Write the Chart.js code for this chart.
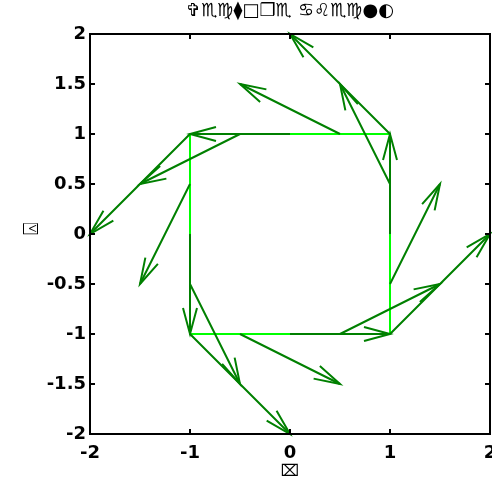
<!DOCTYPE html>
<html>
<head>
<meta charset="utf-8">
<script src="https://cdn.jsdelivr.net/npm/chart.js@4.4.0/dist/chart.umd.min.js"></script>
<style>
html, body { margin: 0; padding: 0; overflow: hidden; background: #fff; }
canvas { position: absolute; left: 0; top: 0; }
</style>
</head>
<body>
<canvas id="chart" width="500" height="482"></canvas>
<script>
// texts (the reference shows them in a symbol font)
var titleText = "\u271E\u264F\u264D\u29EB\u25A1\u2752\u264F \u264B\u264C\u264F\u264D\u25CF\u25D0";
var xLabel = "\u2327";
var yLabel = "\u2002\u2353";

// points on the square (arrow tails)
var ptX = [1, 1, 1, 1, 1, 0.5, 0, -0.5, -1, -1, -1, -1, -1, -0.5, 0, 0.5];
var ptY = [-1, -0.5, 0, 0.5, 1, 1, 1, 1, 1, 0.5, 0, -0.5, -1, -1, -1, -1];
// vector components
var vecU = [1, 0.5, 0, -0.5, -1, -1, -1, -1, -1, -0.5, 0, 0.5, 1, 1, 1, 1];
var vecV = [1, 1, 1, 1, 1, 0.5, 0, -0.5, -1, -1, -1, -1, -1, -0.5, 0, 0.5];

var xTicks = [-2, -1, 0, 1, 2];
var xTickLabels = ["-2", "-1", "0", "1", "2"];
var yTicks = [-2, -1.5, -1, -0.5, 0, 0.5, 1, 1.5, 2];
var yTickLabels = ["-2", "-1.5", "-1", "-0.5", "0", "0.5", "1", "1.5", "2"];

var arrowColor = "#008000";
var outlineColor = "#00ff00";

var outline = [];
for (var i = 0; i < ptX.length; i++) outline.push({x: ptX[i], y: ptY[i]});
outline.push({x: ptX[0], y: ptY[0]});

var shafts = [];
for (var i = 0; i < ptX.length; i++) {
    shafts.push({x: ptX[i], y: ptY[i]});
    shafts.push({x: ptX[i] + vecU[i], y: ptY[i] + vecV[i]});
    shafts.push({x: ptX[i], y: null});
}

// arrow heads and the axes box with inward ticks
var quiverPlugin = {
    id: "quiver",
    afterDatasetsDraw: function (chart) {
        var ctx = chart.ctx, xs = chart.scales.x, ys = chart.scales.y, a = chart.chartArea;
        var headLen = 26, headHalf = 7;

        ctx.save();
        ctx.strokeStyle = arrowColor;
        ctx.lineWidth = 2;
        for (var i = 0; i < ptX.length; i++) {
            var x0 = xs.getPixelForValue(ptX[i]), y0 = ys.getPixelForValue(ptY[i]);
            var x1 = xs.getPixelForValue(ptX[i] + vecU[i]), y1 = ys.getPixelForValue(ptY[i] + vecV[i]);
            var dx = x1 - x0, dy = y1 - y0, len = Math.sqrt(dx * dx + dy * dy);
            var ux = dx / len, uy = dy / len;
            ctx.beginPath();
            ctx.moveTo(x1 - headLen * ux - headHalf * uy, y1 - headLen * uy + headHalf * ux);
            ctx.lineTo(x1, y1);
            ctx.lineTo(x1 - headLen * ux + headHalf * uy, y1 - headLen * uy - headHalf * ux);
            ctx.stroke();
        }

        ctx.strokeStyle = "#000";
        ctx.lineWidth = 2;
        ctx.strokeRect(a.left, a.top, a.right - a.left, a.bottom - a.top);
        var tl = 5;
        ctx.beginPath();
        xTicks.forEach(function (v) {
            var p = xs.getPixelForValue(v);
            ctx.moveTo(p, a.bottom); ctx.lineTo(p, a.bottom - tl);
            ctx.moveTo(p, a.top); ctx.lineTo(p, a.top + tl);
        });
        yTicks.forEach(function (v) {
            var p = ys.getPixelForValue(v);
            ctx.moveTo(a.left, p); ctx.lineTo(a.left + tl, p);
            ctx.moveTo(a.right, p); ctx.lineTo(a.right - tl, p);
        });
        ctx.stroke();
        ctx.restore();
    }
};

var tickFont = {family: "'DejaVu Sans', sans-serif", size: 18, weight: "bold"};
var titleFont = {family: "'DejaVu Sans', sans-serif", size: 18, weight: "bold", lineHeight: 1.25};
var labelFont = {family: "'DejaVu Sans', sans-serif", size: 16, lineHeight: 1.25};
var yLabelFont = {family: "'DejaVu Sans', sans-serif", size: 21, lineHeight: 1.25};

new Chart(document.getElementById("chart"), {
    type: "line",
    data: {
        datasets: [
            {
                data: shafts,
                borderColor: arrowColor,
                borderWidth: 2,
                pointRadius: 0,
                spanGaps: false,
                order: 1
            },
            {
                data: outline,
                borderColor: outlineColor,
                borderWidth: 2,
                pointRadius: 0,
                order: 2
            }
        ]
    },
    options: {
        responsive: false,
        animation: false,
        events: [],
        layout: {padding: 0},
        plugins: {
            legend: {display: false},
            tooltip: {enabled: false},
            title: {
                display: true,
                text: titleText,
                fullSize: false,
                color: "#000",
                font: titleFont,
                padding: {top: 0, bottom: 11.5}
            }
        },
        scales: {
            x: {
                type: "linear",
                min: -2,
                max: 2,
                grid: {display: false, drawTicks: false},
                border: {display: false},
                afterBuildTicks: function (s) {
                    s.ticks = xTicks.map(function (v) { return {value: v}; });
                },
                ticks: {
                    color: "#000",
                    font: tickFont,
                    padding: 9,
                    maxRotation: 0,
                    callback: function (v) { return xTickLabels[xTicks.indexOf(v)]; }
                },
                title: {display: true, text: xLabel, color: "#000", font: labelFont, padding: {top: 0, bottom: 0}},
                afterFit: function (s) {
                    s.height = 48;
                    // keep the plot box at 90..490; the last label may run off the page
                    s.paddingLeft = 0;
                    s.paddingRight = 10;
                }
            },
            y: {
                type: "linear",
                min: -2,
                max: 2,
                grid: {display: false, drawTicks: false},
                border: {display: false},
                afterBuildTicks: function (s) {
                    s.ticks = yTicks.map(function (v) { return {value: v}; });
                },
                ticks: {
                    color: "#000",
                    font: tickFont,
                    padding: 4,
                    callback: function (v) { return yTickLabels[yTicks.indexOf(v)]; }
                },
                title: {display: true, text: yLabel, color: "#000", font: yLabelFont, padding: {top: 19, bottom: 0}},
                afterFit: function (s) {
                    s.width = 90;
                    s.paddingTop = 0;
                    s.paddingBottom = 0;
                }
            }
        }
    },
    plugins: [quiverPlugin]
});
</script>
</body>
</html>
